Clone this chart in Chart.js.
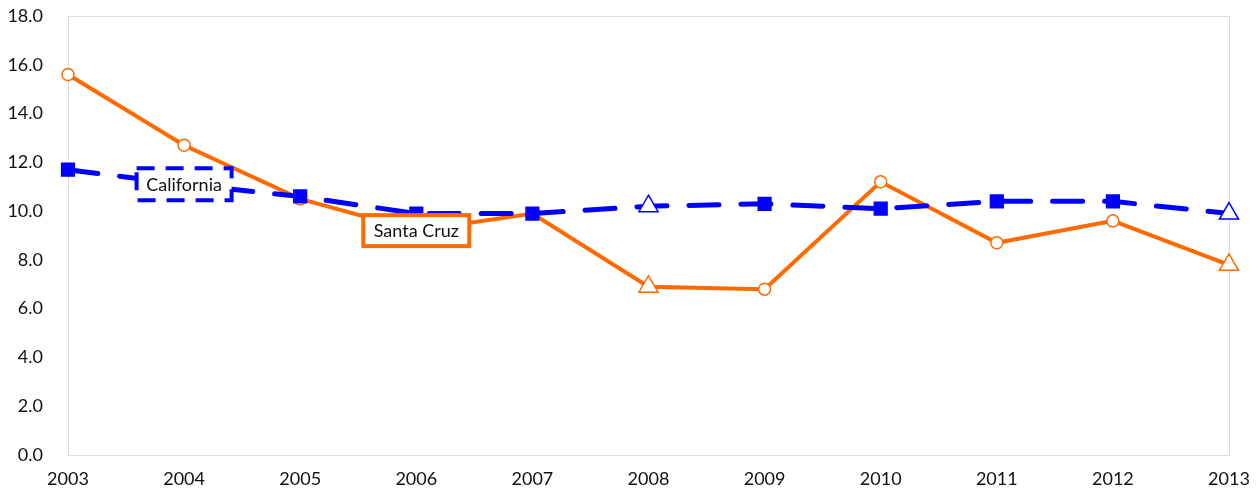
<!DOCTYPE html>
<html>
<head>
<meta charset="utf-8">
<script src="https://cdn.jsdelivr.net/npm/chart.js@4"></script>
<style>
  body { margin: 0; background: #fff; }
  #wrap { width: 1258px; height: 493px; }
</style>
</head>
<body>
<div id="wrap"><canvas id="chart" width="1258" height="493"></canvas></div>
<script>
const years = ["2003", "2004", "2005", "2006", "2007", "2008", "2009", "2010", "2011", "2012", "2013"];
const santaCruz = [15.6, 12.7, 10.5, 9.2, 9.9, 6.9, 6.8, 11.2, 8.7, 9.6, 7.8];
const california = [11.7, 11.1, 10.6, 9.9, 9.9, 10.2, 10.3, 10.1, 10.4, 10.4, 9.9];
const yTicks = [0, 2, 4, 6, 8, 10, 12, 14, 16, 18];

const orange = "#ff6a00";
const blue = "#0000ff";
const font = "Lato, 'Open Sans', sans-serif";

// triangles mark 2008 and 2013
const styleFor = (y, base) => (y === "2008" || y === "2013") ? "triangle" : base;

const seriesLabels = [
  { dataset: 0, index: 1, text: "California", color: blue, dash: [18, 11], w: 95, h: 32 },
  { dataset: 1, index: 3, text: "Santa Cruz", color: orange, dash: [], w: 106, h: 31 }
];

const frame = {
  id: "frame",
  beforeDatasetsDraw(chart) {
    const a = chart.chartArea, ctx = chart.ctx;
    ctx.save();
    ctx.strokeStyle = "#dcdcdc";
    ctx.lineWidth = 1;
    ctx.strokeRect(a.left + 0.5, a.top + 0.5, a.right - a.left, a.bottom - a.top);
    ctx.restore();
  }
};

const boxes = {
  id: "boxes",
  afterDatasetsDraw(chart) {
    const ctx = chart.ctx;
    seriesLabels.forEach(l => {
      const pt = chart.getDatasetMeta(l.dataset).data[l.index];
      const x = pt.x - l.w / 2, y = pt.y - l.h / 2;
      ctx.save();
      ctx.fillStyle = "#fff";
      ctx.fillRect(x, y, l.w, l.h);
      ctx.strokeStyle = l.color;
      ctx.lineWidth = 4;
      ctx.setLineDash(l.dash);
      ctx.strokeRect(x, y, l.w, l.h);
      ctx.setLineDash([]);
      ctx.fillStyle = "#111";
      ctx.font = "18px " + font;
      ctx.textAlign = "center";
      ctx.textBaseline = "middle";
      ctx.fillText(l.text, pt.x, pt.y + 1);
      ctx.restore();
    });
  }
};

new Chart(document.getElementById("chart"), {
  type: "line",
  data: {
    labels: years,
    datasets: [
      {
        label: "California",
        data: california,
        borderColor: blue,
        borderWidth: 5,
        borderDash: [30, 22],
        borderCapStyle: "round",
        pointStyle: years.map(y => styleFor(y, "rect")),
        pointRadius: years.map(y => styleFor(y, "rect") === "triangle" ? 11 : 9),
        pointBackgroundColor: years.map(y => styleFor(y, "rect") === "triangle" ? "#fff" : blue),
        pointBorderColor: blue,
        pointBorderWidth: 1.5,
        tension: 0
      },
      {
        label: "Santa Cruz",
        data: santaCruz,
        borderColor: orange,
        borderWidth: 4,
        pointStyle: years.map(y => styleFor(y, "circle")),
        pointRadius: years.map(y => styleFor(y, "circle") === "triangle" ? 11 : 6),
        pointBackgroundColor: "#fff",
        pointBorderColor: orange,
        pointBorderWidth: 1.5,
        tension: 0
      }
    ]
  },
  options: {
    responsive: false,
    animation: false,
    layout: { padding: { top: 16, right: 29, left: 0, bottom: 0 } },
    plugins: { legend: { display: false }, tooltip: { enabled: false } },
    scales: {
      x: {
        grid: { display: false },
        border: { display: false },
        ticks: { color: "#111", font: { family: font, size: 18 }, padding: 5, maxRotation: 0 },
        afterFit(s) { s.height = 38; s.paddingLeft = 0; s.paddingRight = 0; }
      },
      y: {
        min: 0,
        max: 18,
        grid: { display: false },
        border: { display: false },
        afterBuildTicks(s) { s.ticks = yTicks.map(v => ({ value: v })); },
        ticks: {
          color: "#111",
          font: { family: font, size: 18 },
          padding: 17,
          callback: v => v.toFixed(1)
        },
        afterFit(s) { s.width = 68; s.paddingTop = 0; s.paddingBottom = 0; }
      }
    }
  },
  plugins: [frame, boxes]
});
</script>
</body>
</html>
